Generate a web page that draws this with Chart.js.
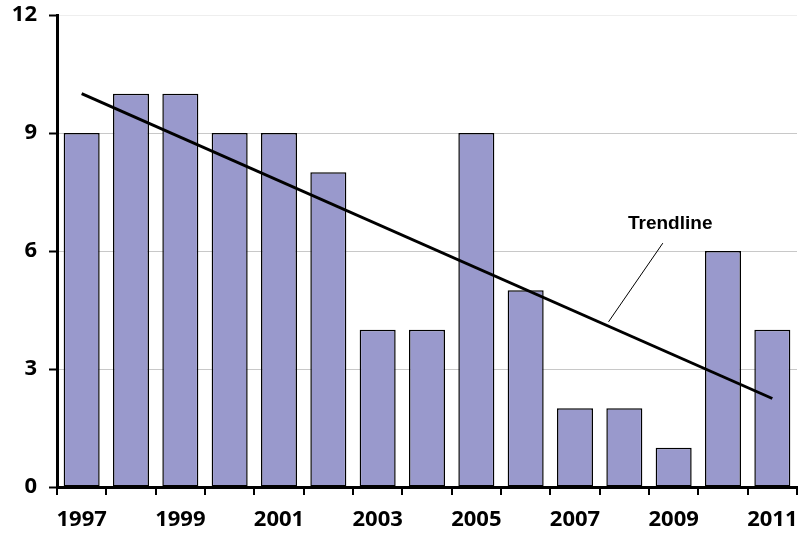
<!DOCTYPE html>
<html>
<head>
<meta charset="utf-8">
<script src="https://cdn.jsdelivr.net/npm/chart.js@4"></script>
<style>
  html, body { margin: 0; padding: 0; background: #fff; }
  #wrap { width: 804px; height: 537px; }
</style>
</head>
<body>
<div id="wrap"><canvas id="myChart"></canvas></div>
<script>
const years = ["1997", "1998", "1999", "2000", "2001", "2002", "2003", "2004",
  "2005", "2006", "2007", "2008", "2009", "2010", "2011"];
const counts = [9, 10, 10, 9, 9, 8, 4, 4, 9, 5, 2, 2, 1, 6, 4];
// trendline end points (first and last year)
const trendStart = 10.0;
const trendEnd = 2.25;
const yTicks = [0, 3, 6, 9, 12];

const trendData = years.map((y, i) =>
  i === 0 ? trendStart : i === years.length - 1 ? trendEnd : null);

const axisFont = { family: "'Open Sans', sans-serif", size: 22, weight: "bold" };

// "Trendline" callout, placed in data coordinates
const calloutPlugin = {
  id: "callout",
  afterDatasetsDraw(chart) {
    const { ctx, scales: { x, y } } = chart;
    const px = (v) => x.getPixelForValue(0) + v * (x.getPixelForValue(1) - x.getPixelForValue(0));
    ctx.save();
    ctx.strokeStyle = "#000";
    ctx.lineWidth = 1;
    ctx.beginPath();
    ctx.moveTo(px(11.78), y.getPixelForValue(6.2));
    ctx.lineTo(px(10.68), y.getPixelForValue(4.2));
    ctx.stroke();
    ctx.fillStyle = "#000";
    ctx.font = "bold 19px 'Liberation Sans', Arial, sans-serif";
    ctx.textAlign = "center";
    ctx.textBaseline = "middle";
    ctx.fillText("Trendline", px(11.93), y.getPixelForValue(6.7));
    ctx.restore();
  },
};

const ctx = document.getElementById("myChart").getContext("2d");
const myChart = new Chart(ctx, {
  type: "bar",
  data: {
    labels: years,
    datasets: [
      {
        type: "line",
        data: trendData,
        spanGaps: true,
        borderColor: "#000",
        borderWidth: 3,
        pointRadius: 0,
        order: 0,
      },
      {
        data: counts,
        backgroundColor: "#9999cc",
        borderColor: "#000",
        borderWidth: 1.5,
        borderSkipped: false,
        barPercentage: 0.73,
        categoryPercentage: 1,
        order: 1,
      },
    ],
  },
  options: {
    responsive: true,
    maintainAspectRatio: false,
    animation: false,
    layout: { padding: { top: 15, right: 7, left: 0, bottom: 0 } },
    plugins: {
      legend: { display: false },
      tooltip: { enabled: false },
    },
    scales: {
      x: {
        offset: true,
        grid: {
          offset: true,
          drawOnChartArea: false,
          drawTicks: true,
          tickLength: 8,
          tickColor: "#000",
          lineWidth: 2,
        },
        border: { color: "#000", width: 3 },
        ticks: {
          color: "#000",
          font: axisFont,
          padding: 12,
          maxRotation: 0,
          autoSkip: false,
          callback: (v, i) => (i % 2 === 0 ? years[i] : ""),
        },
        afterFit: (scale) => {
          scale.height = 50;
          scale.paddingLeft = 0;
          scale.paddingRight = 0;
        },
      },
      y: {
        min: 0,
        max: 12,
        afterBuildTicks: (scale) => { scale.ticks = yTicks.map((v) => ({ value: v })); },
        grid: {
          color: (c) => (c.tick && c.tick.value === 12 ? "#eeeeee" : "#c8c8c8"),
          lineWidth: 1,
          tickLength: 8,
          tickColor: "#000",
          tickWidth: 2,
        },
        border: { color: "#000", width: 3 },
        ticks: {
          color: "#000",
          font: axisFont,
          padding: 12,
        },
        afterFit: (scale) => {
          scale.width = 57;
          scale.paddingTop = 0;
          scale.paddingBottom = 0;
        },
      },
    },
  },
  plugins: [calloutPlugin],
});
</script>
</body>
</html>
